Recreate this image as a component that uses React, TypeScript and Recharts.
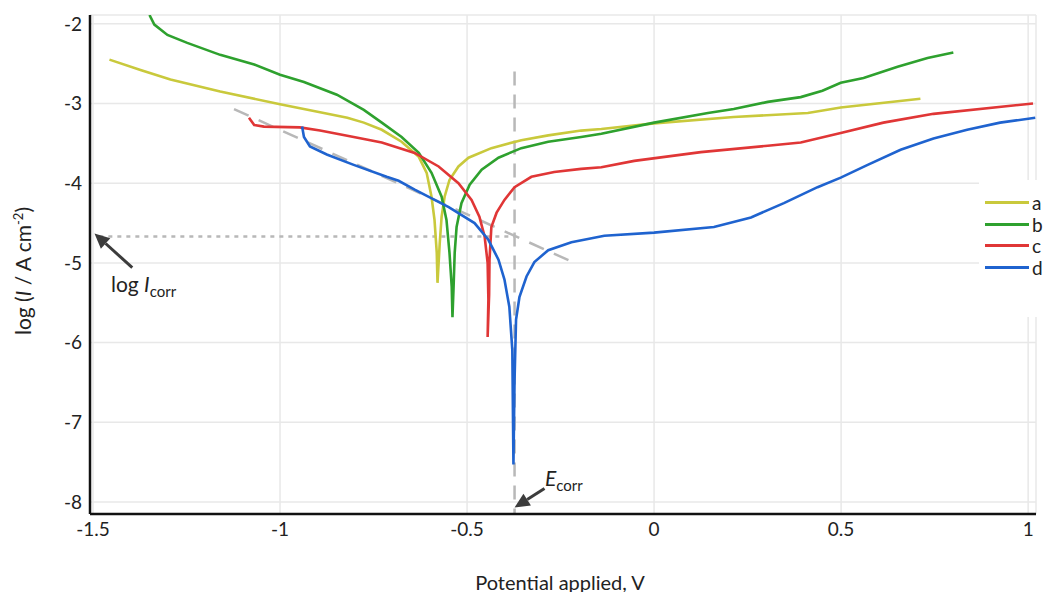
import React from "react";
import {
    LineChart,
    Line,
    XAxis,
    YAxis,
    CartesianGrid,
    ReferenceLine,
} from "recharts";

const xTicks = [-1.5, -1, -0.5, 0, 0.5, 1];
const yTicks = [-8, -7, -6, -5, -4, -3, -2];

// [potential V, log I]
const curveA: [number, number][] = [
    [-1.456, -2.45], [-1.373, -2.58], [-1.293, -2.70], [-1.160, -2.85], [-1.0, -3.01],
    [-0.893, -3.11], [-0.82, -3.18], [-0.776, -3.24], [-0.728, -3.33], [-0.675, -3.48],
    [-0.629, -3.67], [-0.608, -3.87], [-0.595, -4.17], [-0.587, -4.46], [-0.581, -4.87],
    [-0.579, -5.25], [-0.573, -4.75], [-0.568, -4.42], [-0.560, -4.17], [-0.547, -3.96],
    [-0.523, -3.79], [-0.496, -3.68], [-0.435, -3.56], [-0.355, -3.46], [-0.283, -3.40],
    [-0.195, -3.34], [-0.141, -3.32], [0, -3.25], [0.213, -3.17], [0.411, -3.12],
    [0.499, -3.05], [0.712, -2.94],
];

const curveB: [number, number][] = [
    [-1.349, -1.89], [-1.336, -2.01], [-1.301, -2.14], [-1.248, -2.24], [-1.160, -2.39],
    [-1.069, -2.51], [-1.0, -2.64], [-0.936, -2.73], [-0.848, -2.89], [-0.776, -3.08],
    [-0.728, -3.24], [-0.675, -3.42], [-0.629, -3.62], [-0.595, -3.87], [-0.568, -4.17],
    [-0.555, -4.46], [-0.547, -4.87], [-0.541, -5.30], [-0.539, -5.68], [-0.536, -5.30],
    [-0.533, -4.87], [-0.528, -4.55], [-0.515, -4.25], [-0.493, -4.02], [-0.461, -3.83],
    [-0.416, -3.68], [-0.355, -3.56], [-0.283, -3.48], [-0.195, -3.42], [-0.141, -3.38],
    [0, -3.24], [0.144, -3.12], [0.213, -3.07], [0.304, -2.98], [0.392, -2.92],
    [0.45, -2.84], [0.499, -2.74], [0.560, -2.68], [0.651, -2.54], [0.731, -2.43],
    [0.800, -2.36],
];

const curveC: [number, number][] = [
    [-1.083, -3.18], [-1.069, -3.27], [-1.043, -3.29], [-0.947, -3.30], [-0.893, -3.34],
    [-0.803, -3.42], [-0.728, -3.49], [-0.640, -3.62], [-0.576, -3.79], [-0.523, -4.00],
    [-0.488, -4.21], [-0.467, -4.42], [-0.453, -4.67], [-0.445, -5.00], [-0.443, -5.46],
    [-0.445, -5.93], [-0.441, -5.40], [-0.440, -4.96], [-0.435, -4.55], [-0.421, -4.37],
    [-0.400, -4.21], [-0.373, -4.05], [-0.328, -3.92], [-0.267, -3.86], [-0.195, -3.82],
    [-0.141, -3.80], [-0.053, -3.72], [0.125, -3.61], [0.304, -3.53], [0.392, -3.49],
    [0.499, -3.37], [0.613, -3.24], [0.747, -3.13], [1.013, -3.00],
];

const curveD: [number, number][] = [
    [-0.941, -3.29], [-0.936, -3.42], [-0.920, -3.54], [-0.875, -3.64], [-0.803, -3.77],
    [-0.715, -3.92], [-0.683, -3.97], [-0.640, -4.08], [-0.549, -4.30], [-0.480, -4.50],
    [-0.443, -4.71], [-0.416, -4.96], [-0.400, -5.21], [-0.387, -5.55], [-0.379, -6.09],
    [-0.376, -7.53], [-0.373, -6.47], [-0.369, -5.71], [-0.360, -5.43], [-0.341, -5.17],
    [-0.320, -4.99], [-0.283, -4.84], [-0.221, -4.74], [-0.133, -4.66], [0, -4.62],
    [0.160, -4.55], [0.259, -4.43], [0.347, -4.25], [0.437, -4.05], [0.499, -3.93],
    [0.571, -3.77], [0.659, -3.58], [0.747, -3.44], [0.837, -3.33], [0.925, -3.24],
    [1.019, -3.18],
];

const series = [
    {name: "a", color: "#c9c93c", points: curveA},
    {name: "b", color: "#2ea12e", points: curveB},
    {name: "c", color: "#e03636", points: curveC},
    {name: "d", color: "#1f63cf", points: curveD},
];

// Ecorr / Icorr construction (V, log I)
const eCorr = -0.373;
const logICorr = -4.67;

const toRows = (pts: [number, number][]) => pts.map(([x, y]) => ({x, y}));

const ArrowShape = (props: any) => {
    const {x1, y1, x2, y2} = props;
    const ang = Math.atan2(y2 - y1, x2 - x1);
    const len = 15;
    const half = 7;
    const bx = x2 - len * Math.cos(ang);
    const by = y2 - len * Math.sin(ang);
    const pts = [
        [x2, y2],
        [bx + half * Math.sin(ang), by - half * Math.cos(ang)],
        [bx - half * Math.sin(ang), by + half * Math.cos(ang)],
    ].map(p => p.join(",")).join(" ");
    return (
        <g>
            <line x1={x1} y1={y1} x2={bx} y2={by} stroke="#3c3c3c" strokeWidth={3}/>
            <polygon points={pts} fill="#3c3c3c"/>
        </g>
    );
};

const font = "Lato, 'Open Sans', sans-serif";

const App = () => {
    return (
        <div style={{position: "relative", width: 1035, height: 584, fontFamily: font, color: "#222"}}>
            <LineChart
                width={1035}
                height={584}
                margin={{top: 7, right: 7, left: 22, bottom: 48}}
            >
                <CartesianGrid stroke="#e8e8e8" strokeWidth={1.5}/>
                <XAxis
                    type="number"
                    dataKey="x"
                    domain={[-1.508, 1.021]}
                    ticks={xTicks}
                    allowDataOverflow
                    height={30}
                    tickSize={0}
                    tickMargin={9}
                    axisLine={{stroke: "#111", strokeWidth: 2.5}}
                    tick={{fill: "#222", fontSize: 19, fontFamily: font}}
                />
                <YAxis
                    type="number"
                    domain={[-8.15, -1.89]}
                    ticks={yTicks}
                    allowDataOverflow
                    width={60}
                    tickSize={0}
                    tickMargin={8}
                    axisLine={{stroke: "#111", strokeWidth: 2.5}}
                    tick={{fill: "#222", fontSize: 19, fontFamily: font}}
                />
                <ReferenceLine
                    segment={[{x: -1.483, y: logICorr}, {x: eCorr, y: logICorr}]}
                    stroke="#b8b8b8" strokeWidth={2.5} strokeDasharray="4 5"
                />
                <ReferenceLine
                    segment={[{x: eCorr, y: -2.6}, {x: eCorr, y: -8.15}]}
                    stroke="#b8b8b8" strokeWidth={2.5} strokeDasharray="14 9"
                />
                <ReferenceLine
                    segment={[{x: -1.123, y: -3.07}, {x: -0.213, y: -5.0}]}
                    stroke="#b8b8b8" strokeWidth={2.5} strokeDasharray="16 11"
                />
                {series.map(s => (
                    <Line
                        key={s.name}
                        data={toRows(s.points)}
                        dataKey="y"
                        name={s.name}
                        type="linear"
                        stroke={s.color}
                        strokeWidth={2.6}
                        dot={false}
                        activeDot={false}
                        isAnimationActive={false}
                    />
                ))}
                <ReferenceLine
                    segment={[{x: -1.395, y: -5.06}, {x: -1.496, y: -4.63}]}
                    shape={ArrowShape}
                />
                <ReferenceLine
                    segment={[{x: -0.293, y: -7.83}, {x: eCorr, y: -8.07}]}
                    shape={ArrowShape}
                />
            </LineChart>

            <div style={{
                position: "absolute", left: 14, top: 263, whiteSpace: "nowrap", fontSize: 21,
                transform: "translate(-50%, -50%) rotate(-90deg)",
            }}>
                log (<i>I</i> / A cm<sup style={{fontSize: 13}}>-2</sup>)
            </div>
            <div style={{
                position: "absolute", left: 552, top: 562, whiteSpace: "nowrap", fontSize: 20,
                transform: "translateX(-50%)",
            }}>
                Potential applied, V
            </div>
            <div style={{position: "absolute", left: 103, top: 263, fontSize: 21, whiteSpace: "nowrap"}}>
                log <i>I</i><sub style={{fontSize: 15}}>corr</sub>
            </div>
            <div style={{position: "absolute", left: 537, top: 457, fontSize: 21, whiteSpace: "nowrap"}}>
                <i>E</i><sub style={{fontSize: 15}}>corr</sub>
            </div>

            <div style={{
                position: "absolute", left: 971, top: 172, width: 64, height: 137,
                background: "#fff", paddingTop: 12, boxSizing: "border-box",
            }}>
                {series.map(s => (
                    <div key={s.name} style={{display: "flex", alignItems: "center", height: 21.5}}>
                        <div style={{marginLeft: 6, width: 44, height: 3, background: s.color, flexShrink: 0}}/>
                        <span style={{marginLeft: 3, fontSize: 19, lineHeight: "21px"}}>{s.name}</span>
                    </div>
                ))}
            </div>
        </div>
    );
};

export default App;
